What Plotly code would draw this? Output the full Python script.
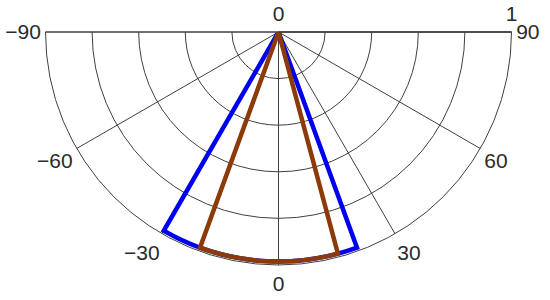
import plotly.graph_objects as go

# angular ticks in degrees (0 points straight down, -90 left, 90 right)
angle_ticks = [-90, -60, -30, 0, 30, 60, 90]
angle_labels = ["\u221290", "\u221260", "\u221230", "0", "30", "60", "90"]

# radial ticks
radial_ticks = [0, 0.2, 0.4, 0.6, 0.8, 1]
radial_labels = ["0", "", "", "", "", "1"]

# sector outlines: start angle, end angle, radius
sector_names = ["wide", "narrow"]
sector_start = [-30, -20]
sector_end = [20, 15]
sector_radius = [0.985, 0.985]
sector_colors = ["#0000f0", "#8b3a08"]

GRID = "#404040"
TEXT = "#2b2b2b"
# plotly only keeps angular ticks inside the sector values, so angles are
# shifted onto the lower half [180, 360] of the plain polar frame
OFFSET = 270

fig = go.Figure()
for name, a0, a1, r, col in zip(sector_names, sector_start, sector_end,
                                 sector_radius, sector_colors):
    fig.add_trace(
        go.Barpolar(
            r=[r],
            theta=[OFFSET + (a0 + a1) / 2],
            width=[a1 - a0],
            name=name,
            marker=dict(color="rgba(0,0,0,0)",
                        line=dict(color=col, width=4.5)),
            showlegend=False))

fig.update_layout(
    width=550, height=300,
    margin=dict(l=45, r=38, t=32, b=35),
    paper_bgcolor="white",
    font=dict(family="Arial, Liberation Sans", size=21, color=TEXT),
    polar=dict(
        bgcolor="white",
        sector=[180, 360],
        barmode="overlay",
        angularaxis=dict(
            rotation=0,
            direction="counterclockwise",
            tickmode="array",
            tickvals=[OFFSET + a for a in angle_ticks],
            ticktext=angle_labels,
            ticks="",
            showline=True,
            linecolor=GRID,
            linewidth=1,
            gridcolor=GRID,
            gridwidth=1),
        radialaxis=dict(
            range=[0, 1],
            tickmode="array",
            tickvals=radial_ticks,
            ticktext=radial_labels,
            ticks="outside",
            ticklen=2,
            tickcolor="rgba(0,0,0,0)",
            angle=0,
            tickangle=0,
            side="counterclockwise",
            showline=True,
            linecolor=GRID,
            linewidth=1.5,
            gridcolor=GRID,
            gridwidth=1)))

# drop the default page margin so the figure sits at the window corner
fig.write_html("out.html",
               config={"displayModeBar": False},
               post_script="document.body.style.margin='0';")
